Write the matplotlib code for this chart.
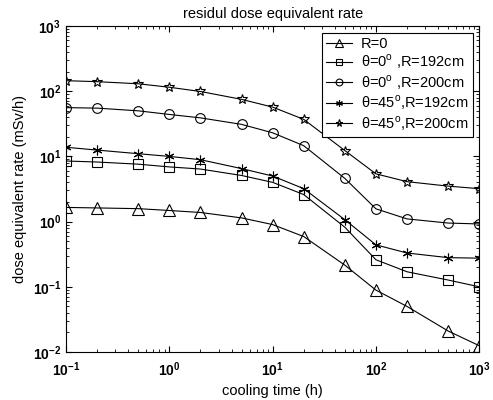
import matplotlib
matplotlib.use("Agg")
import matplotlib.pyplot as plt

plt.rcParams['font.family'] = ['Liberation Sans', 'DejaVu Sans']
plt.rcParams['mathtext.fontset'] = 'custom'
plt.rcParams['mathtext.rm'] = 'Liberation Sans'

# cooling time (h)
cooling_time = [0.1, 0.2, 0.5, 1, 2, 5, 10, 20, 50, 100, 200, 500, 1000]

# dose equivalent rate (mSv/h)
r0 = [1.65, 1.62, 1.58, 1.48, 1.38, 1.14, 0.9, 0.59, 0.215, 0.089, 0.05, 0.021, 0.0125]
t0_r192 = [8.5, 8.2, 7.6, 6.9, 6.4, 5.1, 4.0, 2.6, 0.82, 0.26, 0.17, 0.127, 0.10]
t0_r200 = [56, 55, 50, 44, 39, 31, 23, 14.6, 4.6, 1.57, 1.1, 0.95, 0.92]
t45_r192 = [13.8, 12.5, 11, 10, 8.9, 6.5, 5.0, 3.2, 1.07, 0.44, 0.33, 0.28, 0.275]
t45_r200 = [145, 140, 130, 115, 99, 75, 57, 37, 12.3, 5.4, 4.1, 3.5, 3.2]

labels = ["R=0",
          r"θ=0$^{\mathrm{o}}$ ,R=192cm",
          r"θ=0$^{\mathrm{o}}$ ,R=200cm",
          r"θ=45$^{\mathrm{o}}$,R=192cm",
          r"θ=45$^{\mathrm{o}}$,R=200cm"]

fig = plt.figure(figsize=(4.93, 4.0), dpi=100)
ax = fig.add_axes([0.134, 0.12, 0.838, 0.815])

series = [r0, t0_r192, t0_r200, t45_r192, t45_r200]
markers = ['^', 's', 'o', (6, 2, 0), '*']
sizes = [8.5, 7, 7, 7, 7.5]
for vals, m, ms, lab in zip(series, markers, sizes, labels):
    ax.plot(cooling_time, vals, color='black', lw=0.8, marker=m, ms=ms,
            mfc='none', mec='black', mew=0.8, label=lab)

ax.set_xscale('log')
ax.set_yscale('log')
ax.set_xlim(0.1, 1000)
ax.set_ylim(0.01, 1000)
ax.tick_params(which='both', direction='in', top=True, right=True, labelsize=10)
ax.tick_params(axis='x', pad=6)
ax.tick_params(which='major', length=4)
ax.tick_params(which='minor', length=2)
for lbl in ax.get_xticklabels() + ax.get_yticklabels():
    lbl.set_fontweight('bold')

ax.set_xlabel("cooling time (h)", fontsize=10.5)
ax.set_ylabel("dose equivalent rate (mSv/h)", fontsize=10.5)
ax.set_title("residul dose equivalent rate", fontsize=10.5)

leg = ax.legend(loc='upper right', markerscale=0.7, handlelength=1.8,
                fancybox=False, framealpha=1, edgecolor='black', borderpad=0.3,
                labelspacing=0.12, handletextpad=0.6, borderaxespad=0.45,
                prop={'size': 10.5})
leg.get_frame().set_linewidth(0.8)

fig.savefig("out.png", dpi=100)
